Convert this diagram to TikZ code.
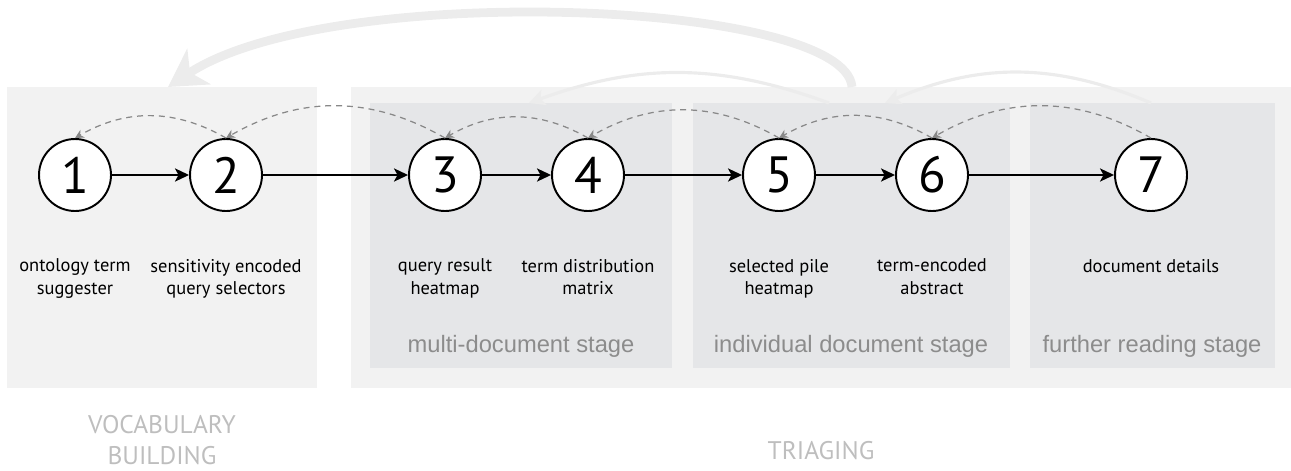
\documentclass[tikz,border=0pt]{standalone}
\usepackage{fontspec}
\setmainfont{PT Sans}
\newfontfamily\stagefont{Liberation Sans}
\usetikzlibrary{positioning, arrows.meta}
\definecolor{outerbox}{RGB}{242,242,242}
\definecolor{innerbox}{RGB}{229,230,232}
\definecolor{backarc}{RGB}{236,236,236}
\definecolor{dashgray}{RGB}{136,136,136}
\definecolor{phasegray}{RGB}{190,190,190}
\definecolor{stagegray}{RGB}{140,140,140}

\begin{document}
\begin{tikzpicture}[
  x=0.02cm, y=-0.02cm,
  every node/.style={font=\fontsize{10.5}{13}\selectfont},
  phasebox/.style = {fill=outerbox, draw=none},
  stagebox/.style = {fill=innerbox, draw=none},
  state/.style    = {circle, draw=black, line width=1.1pt, fill=white, minimum size=1.44cm, inner sep=0pt, font=\fontsize{29}{30}\selectfont},
  desc/.style     = {align=center, inner sep=1pt},
  stagelbl/.style = {font=\stagefont\fontsize{13.5}{15}\selectfont, text=stagegray},
  phaselbl/.style = {align=center, text=phasegray, font=\fontsize{14.5}{18}\selectfont},
  fwd/.style      = {-{Stealth[length=8pt, width=7.5pt, inset=2pt]}, line width=1.1pt},
  back/.style     = {-{Stealth[length=5pt, width=5pt]}, dashgray, line width=0.7pt, dash pattern=on 3.4pt off 2.8pt},
  jump/.style     = {-{Stealth[length=9pt, width=9pt, inset=2pt]}, backarc, line width=1.8pt},
  leap/.style     = {-{Stealth[length=21pt, width=24pt, inset=6pt]}, backarc, line width=5pt},
]
  \useasboundingbox (0,0) rectangle (1291,470);

  % phases and stages
  \path[phasebox] (7,87)   rectangle (317,388);
  \path[phasebox] (351,87) rectangle (1291,388);
  \path[stagebox] (370,103)  rectangle (672,368);
  \path[stagebox] (693,103)  rectangle (1010,368);
  \path[stagebox] (1030,103) rectangle (1275,368);

  % long way back
  \coordinate (leapA) at (852,87);
  \coordinate (leapB) at (168,87);
  \coordinate (jumpA) at (829,103);
  \coordinate (jumpB) at (529,103);
  \coordinate (jumpC) at (1151,103);
  \coordinate (jumpD) at (885,103);
  \draw[leap] (leapA) .. controls (845,0) and (330,-20) .. (leapB);
  \draw[jump] (jumpA) to[bend right=20] (jumpB);
  \draw[jump] (jumpC) to[bend right=23] (jumpD);

  % states
  \foreach \i/\x in {1/75, 2/226, 3/445, 4/588, 5/779, 6/932, 7/1151}
     \node[state] (n\i) at (\x,175) {\i};
  \foreach \i/\txt in {1/{ontology term\\suggester}, 2/{sensitivity encoded\\query selectors},
                       3/{query result\\heatmap}, 4/{term distribution\\matrix},
                       5/{selected pile\\heatmap}, 6/{term-encoded\\abstract},
                       7/{document details}}
     \node[desc, below=0.9cm of n\i] (l\i) {\txt};

  \foreach \a/\b in {1/2, 2/3, 3/4, 4/5, 5/6, 6/7}
     \draw[fwd] (n\a) -- (n\b);
  \foreach \a/\b in {2/1, 3/2, 4/3, 5/4, 6/5, 7/6}
     \draw[back] (n\a.north) to[bend right=30] (n\b.north);

  \node[stagelbl] (multi) at (521,346)  {multi-document stage};
  \node[stagelbl] (indiv) at (851,346)  {individual document stage};
  \node[stagelbl] (further) at (1152,346) {further reading stage};

  \node[phaselbl] (vocab) at (162,440) {VOCABULARY\\BUILDING};
  \node[phaselbl] (triage) at (821,451) {TRIAGING};
\end{tikzpicture}
\end{document}
